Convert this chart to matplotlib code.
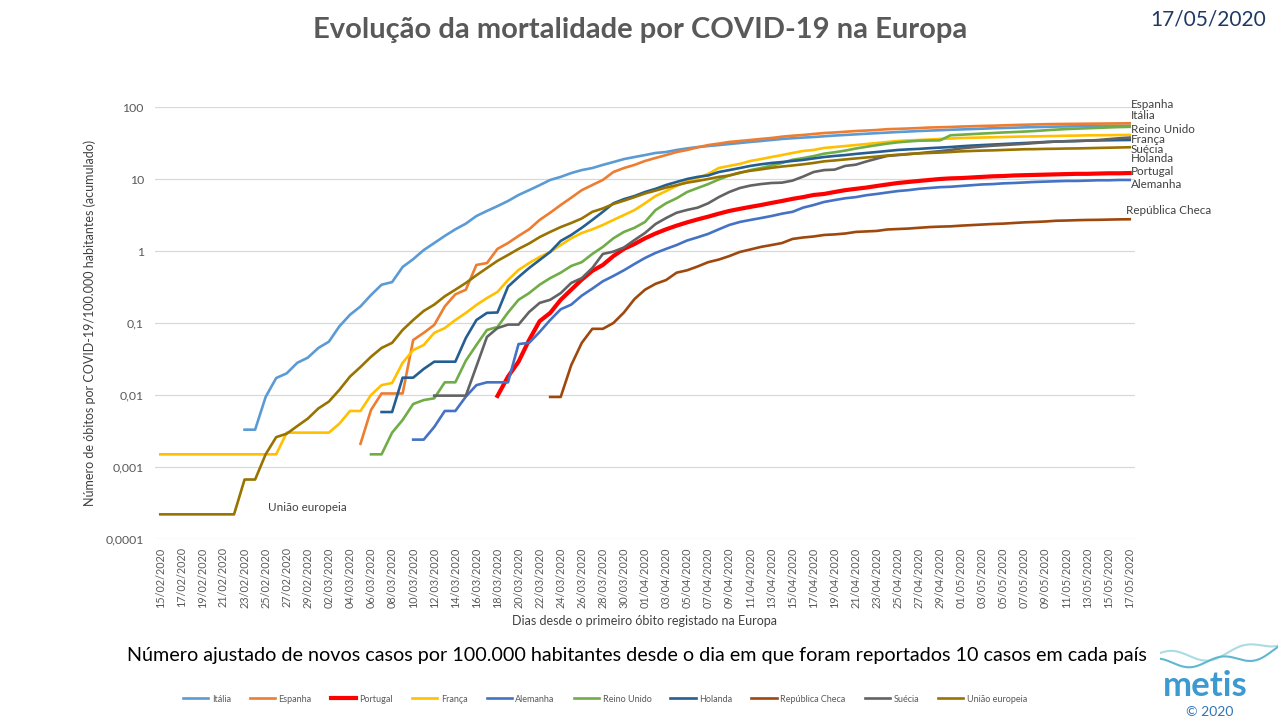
import numpy as np
import pandas as pd
import matplotlib.pyplot as plt

plt.rcParams['font.family'] = ['Lato', 'DejaVu Sans']

# dias de 15/02/2020 a 17/05/2020
dias = pd.date_range('2020-02-15', '2020-05-17', freq='D')
rotulos_x = [d.strftime('%d/%m/%Y') for d in dias]

N = None
# óbitos acumulados por 100.000 habitantes
italia = [N] * 8 + [
    0.0033, 0.0033, 0.0094, 0.0172, 0.020, 0.028, 0.033, 0.045, 0.055, 0.09,
    0.13, 0.17, 0.245, 0.34, 0.37, 0.6, 0.77, 1.03, 1.29, 1.62,
    2.0, 2.4, 3.06, 3.6, 4.2, 4.95, 6.0, 7.0, 8.2, 9.7,
    10.7, 12.1, 13.3, 14.2, 15.7, 17.2, 18.9, 20.2, 21.5, 23,
    23.7, 25.3, 26.6, 27.8, 28.7, 29.6, 30.6, 31.6, 32.7, 33.7,
    34.8, 36, 36.8, 37.6, 38.3, 39.2, 40.1, 40.9, 41.7, 42.5,
    43.3, 44.1, 44.9, 45.6, 46.4, 47, 47.6, 48.3, 48.8, 49.4,
    50, 50.7, 51.1, 51.6, 52.1, 52.6, 53, 53.4, 53.7, 54,
    54.4, 54.6, 54.7, 54.9, 55]
espanha = [N] * 19 + [
    0.0021, 0.0062, 0.0105, 0.0105, 0.0105, 0.058, 0.073, 0.094, 0.17, 0.25, 0.29,
    0.64, 0.68, 1.07, 1.29, 1.62, 2.0, 2.7, 3.4, 4.35, 5.5,
    7.0, 8.25, 9.7, 12.5, 14.2, 15.7, 17.8, 19.6, 21.5, 23.7,
    25.3, 27.5, 29.6, 31, 32.7, 33.7, 34.8, 36, 37.1, 38.7,
    39.9, 40.9, 42.2, 43.5, 44.3, 45.3, 46.4, 47.1, 47.9, 49.2,
    49.7, 50.3, 51, 51.9, 52.3, 52.8, 53.5, 54, 54.6, 55,
    55.6, 56.2, 56.7, 57.2, 57.7, 58, 58.2, 58.4, 58.6, 58.8,
    59, 59.2, 59.4]
portugal = [N] * 32 + [
    0.0097, 0.018, 0.029, 0.058, 0.106, 0.138, 0.21, 0.29, 0.40, 0.53,
    0.64, 0.85, 1.07, 1.25, 1.5, 1.75, 2.0, 2.25, 2.5, 2.75,
    3.0, 3.3, 3.6, 3.85, 4.1, 4.35, 4.65, 4.95, 5.3, 5.6,
    6.0, 6.2, 6.6, 7.0, 7.3, 7.6, 8.0, 8.4, 8.8, 9.1,
    9.4, 9.7, 10.0, 10.2, 10.3, 10.5, 10.7, 10.9, 11.0, 11.2,
    11.3, 11.4, 11.5, 11.6, 11.7, 11.8, 11.8, 11.9, 12.0, 12.0,
    12.1]
franca = [0.0015] * 12 + [0.003] * 5 + [
    0.004, 0.006, 0.006, 0.01, 0.0137, 0.0147, 0.028, 0.042, 0.0495, 0.073,
    0.085, 0.11, 0.138, 0.178, 0.222, 0.27, 0.395, 0.545, 0.68, 0.825,
    0.97, 1.21, 1.5, 1.78, 2.0, 2.3, 2.7, 3.16, 3.7, 4.6,
    5.8, 6.8, 8.0, 9.4, 10.3, 11.8, 14.2, 15.2, 16.2, 17.8,
    18.9, 20.2, 21.5, 23, 24.5, 25.3, 27, 27.8, 28.7, 29.6,
    30.6, 31.6, 32.7, 33.7, 34.3, 34.8, 35.4, 36, 36.5, 37.1,
    37.4, 37.7, 38, 38.3, 38.6, 38.9, 39.1, 39.4, 39.6, 39.9,
    40.1, 40.4, 40.5, 40.6, 40.8, 40.9]
alemanha = [N] * 24 + [
    0.0024, 0.0024, 0.0036, 0.006, 0.006, 0.0095, 0.0137, 0.015, 0.015, 0.015,
    0.051, 0.053, 0.075, 0.11, 0.155, 0.18, 0.24, 0.3, 0.38, 0.45,
    0.54, 0.66, 0.8, 0.94, 1.07, 1.21, 1.4, 1.55, 1.73, 2.0,
    2.3, 2.53, 2.7, 2.87, 3.06, 3.3, 3.5, 4.0, 4.35, 4.8,
    5.1, 5.4, 5.6, 5.95, 6.2, 6.5, 6.8, 7.0, 7.3, 7.5,
    7.7, 7.8, 8.0, 8.2, 8.4, 8.5, 8.7, 8.8, 8.95, 9.1,
    9.2, 9.3, 9.4, 9.4, 9.5, 9.6, 9.6, 9.7, 9.7]
reino_unido = [N] * 20 + [
    0.0015, 0.0015, 0.003, 0.0045, 0.0075, 0.0085, 0.009, 0.015, 0.015, 0.03,
    0.0495, 0.08, 0.088, 0.14, 0.21, 0.26, 0.34, 0.42, 0.5, 0.62,
    0.70, 0.91, 1.14, 1.5, 1.84, 2.1, 2.53, 3.7, 4.6, 5.4,
    6.6, 7.5, 8.5, 9.85, 11.2, 12.1, 13.3, 14.2, 15.4, 16.7,
    18.5, 19.5, 20.8, 22.5, 23.5, 24.8, 26.5, 28, 29.5, 31,
    32.3, 33.2, 34, 34.2, 34.4, 40.5, 41.2, 42, 42.8, 43.5,
    44.3, 44.9, 45.6, 46.4, 47.5, 48.5, 49.4, 50, 50.7, 51.3,
    52, 52.6, 53]
holanda = [N] * 21 + [
    0.0058, 0.0058, 0.0174, 0.0174, 0.023, 0.029, 0.029, 0.029, 0.062, 0.11,
    0.138, 0.14, 0.32, 0.435, 0.58, 0.75, 0.97, 1.38, 1.67, 2.1,
    2.7, 3.5, 4.6, 5.25, 5.8, 6.6, 7.3, 8.25, 9.1, 10,
    10.7, 11.2, 12.5, 13.3, 14.2, 15.2, 16, 16.7, 17.2, 17.8,
    18.4, 19.3, 20.2, 20.9, 21.5, 22.3, 23, 23.7, 24.5, 25.3,
    25.8, 26.2, 26.8, 27.3, 27.8, 28.5, 29.1, 29.6, 30.1, 30.6,
    31.1, 31.6, 32.1, 32.7, 33.1, 33.4, 33.7, 34.1, 34.3, 34.5,
    34.7, 34.8]
rep_checa = [N] * 37 + [
    0.0094, 0.0094, 0.026, 0.053, 0.083, 0.083, 0.1, 0.14, 0.215, 0.29,
    0.35, 0.395, 0.5, 0.54, 0.61, 0.7, 0.76, 0.85, 0.97, 1.05,
    1.14, 1.21, 1.29, 1.47, 1.54, 1.59, 1.67, 1.7, 1.75, 1.84,
    1.87, 1.9, 1.99, 2.02, 2.05, 2.1, 2.15, 2.18, 2.2, 2.25,
    2.29, 2.33, 2.37, 2.4, 2.45, 2.5, 2.53, 2.57, 2.63, 2.65,
    2.68, 2.7, 2.71, 2.73, 2.75, 2.76]
suecia = [N] * 26 + [
    0.0098, 0.0098, 0.0098, 0.0098, 0.025, 0.064, 0.085, 0.095, 0.095, 0.142,
    0.19, 0.21, 0.26, 0.36, 0.42, 0.58, 0.91, 0.98, 1.12, 1.42,
    1.78, 2.37, 2.87, 3.4, 3.72, 4.0, 4.6, 5.6, 6.6, 7.5,
    8.1, 8.5, 8.8, 8.9, 9.5, 10.8, 12.5, 13.3, 13.5, 15.2,
    15.8, 17.5, 19.2, 20.9, 21.5, 22.1, 22.8, 23.6, 24.4, 25.3,
    26.6, 27.5, 28.3, 29, 29.6, 30.2, 30.8, 31.6, 32.4, 33.1,
    33.5, 33.8, 34.1, 34.8, 35.8, 36.8, 37.6]
uniao_europeia = [0.00022] * 8 + [
    0.00067, 0.00067, 0.0015, 0.0026, 0.0029, 0.0037, 0.0047, 0.0065, 0.0081, 0.0118,
    0.018, 0.0245, 0.034, 0.045, 0.053, 0.08, 0.11, 0.147, 0.18, 0.235,
    0.29, 0.36, 0.46, 0.58, 0.73, 0.88, 1.07, 1.27, 1.56, 1.84,
    2.15, 2.45, 2.83, 3.5, 3.9, 4.5, 5.0, 5.6, 6.3, 6.9,
    7.6, 8.2, 8.9, 9.4, 10, 10.7, 11.2, 12.3, 13.0, 13.6,
    14.3, 14.9, 15.4, 16, 16.7, 17.6, 18.1, 18.7, 19.3, 19.9,
    20.5, 21.2, 21.7, 22.3, 22.7, 23, 23.3, 23.7, 24.2, 24.5,
    24.8, 25, 25.3, 25.6, 25.9, 26, 26.2, 26.3, 26.5, 26.6,
    26.8, 27, 27.2, 27.4, 27.6]

paises = ['Itália', 'Espanha', 'Portugal', 'França', 'Alemanha', 'Reino Unido',
          'Holanda', 'República Checa', 'Suécia', 'União europeia']
series = [italia, espanha, portugal, franca, alemanha, reino_unido,
          holanda, rep_checa, suecia, uniao_europeia]
cores = ['#5B9BD5', '#ED7D31', '#FF0000', '#FFC000', '#4472C4', '#70AD47',
         '#255E91', '#9E480E', '#636363', '#997300']

fig = plt.figure(figsize=(12.8, 7.2), dpi=100)
ax = fig.add_axes([155 / 1280, 181 / 720, 980 / 1280, 432 / 720])

x = np.arange(len(dias))
linhas = []
for nome, s, cor in zip(paises, series, cores):
    y = np.array([np.nan if v is None else v for v in s], dtype=float)
    lw = 3.0 if nome == 'Portugal' else 1.9
    l, = ax.plot(x, y, color=cor, lw=lw, label=nome, solid_joinstyle='round')
    linhas.append(l)

ax.set_yscale('log')
ax.set_ylim(1e-4, 100)
ax.set_xlim(-0.5, len(dias) - 0.5)
ax.set_yticks([1e-4, 1e-3, 1e-2, 1e-1, 1, 10, 100])
ax.set_yticklabels(['0,0001', '0,001', '0,01', '0,1', '1', '10', '100'])
ax.yaxis.set_minor_locator(plt.NullLocator())
ax.set_xticks(x[::2])
ax.set_xticklabels(rotulos_x[::2], rotation=90)
ax.tick_params(axis='both', length=0, colors='#595959')
ax.tick_params(axis='y', pad=8, labelsize=8.8)
ax.tick_params(axis='x', pad=6, labelsize=7.8)
ax.grid(axis='y', color='#D9D9D9', lw=0.9)
ax.set_axisbelow(True)
for sp in ax.spines.values():
    sp.set_visible(False)

ax.set_ylabel('Número de óbitos por COVID-19/100.000 habitantes (acumulado)',
              fontsize=9, color='#404040', labelpad=7)
ax.set_xlabel('Dias desde o primeiro óbito registado na Europa',
              fontsize=9, color='#404040', labelpad=5)

# rótulos no fim das linhas
rotulos_fim = [('Espanha', 92.1, 110), ('Itália', 92.1, 75), ('Reino Unido', 92.1, 49),
               ('França', 92.1, 35.6), ('Suécia', 92.1, 25.9), ('Holanda', 92.1, 19.4),
               ('Portugal', 92.1, 12.6), ('Alemanha', 92.1, 8.5),
               ('República Checa', 91.6, 3.7)]
for txt, xx, yy in rotulos_fim:
    ax.text(xx, yy, txt, fontsize=8.4, color='#404040', va='center', ha='left', clip_on=False)
ax.text(10.2, 0.00027, 'União europeia', fontsize=8.4, color='#404040', va='center', ha='left')

fig.text(640 / 1280, 1 - 30 / 720, 'Evolução da mortalidade por COVID-19 na Europa',
         ha='center', va='center', fontsize=21, fontweight='bold', color='#595959')
fig.text(1208 / 1280, 1 - 20 / 720, '17/05/2020', ha='center', va='center',
         fontsize=15, color='#1F3864')
fig.text(637 / 1280, 1 - 655 / 720,
         'Número ajustado de novos casos por 100.000 habitantes desde o dia em que foram '
         'reportados 10 casos em cada país', ha='center', va='center', fontsize=14.2, color='black')

fig.legend(handles=linhas, labels=paises, loc='center', bbox_to_anchor=(605 / 1280, 1 - 699 / 720),
           ncol=10, frameon=False, fontsize=6.5, labelcolor='#595959', handlelength=2.8,
           columnspacing=2.1, handletextpad=0.4)

# logótipo metis
logo = fig.add_axes([1160 / 1280, 1 - 672 / 720, 118 / 1280, 45 / 720])
t = np.linspace(0, 1, 200)
logo.plot(t, 0.35 + 0.12 * np.sin(2 * np.pi * (1.6 * t + 0.1)) + 0.35 * t ** 3, color='#A9DCE3', lw=1.5)
logo.plot(t, 0.2 + 0.1 * np.sin(2 * np.pi * (1.8 * t + 0.3)) + 0.3 * t ** 3, color='#5FB8CF', lw=1.5)
logo.set_xlim(0, 1)
logo.set_ylim(0, 1)
logo.axis('off')
fig.text(1205 / 1280, 1 - 686 / 720, 'metis', ha='center', va='center', fontsize=25,
         fontweight='bold', color='#3C9AD0')
fig.text(1210 / 1280, 1 - 712 / 720, '© 2020', ha='center', va='center', fontsize=10,
         color='#2E75B6')

fig.savefig('out.png', dpi=100)
